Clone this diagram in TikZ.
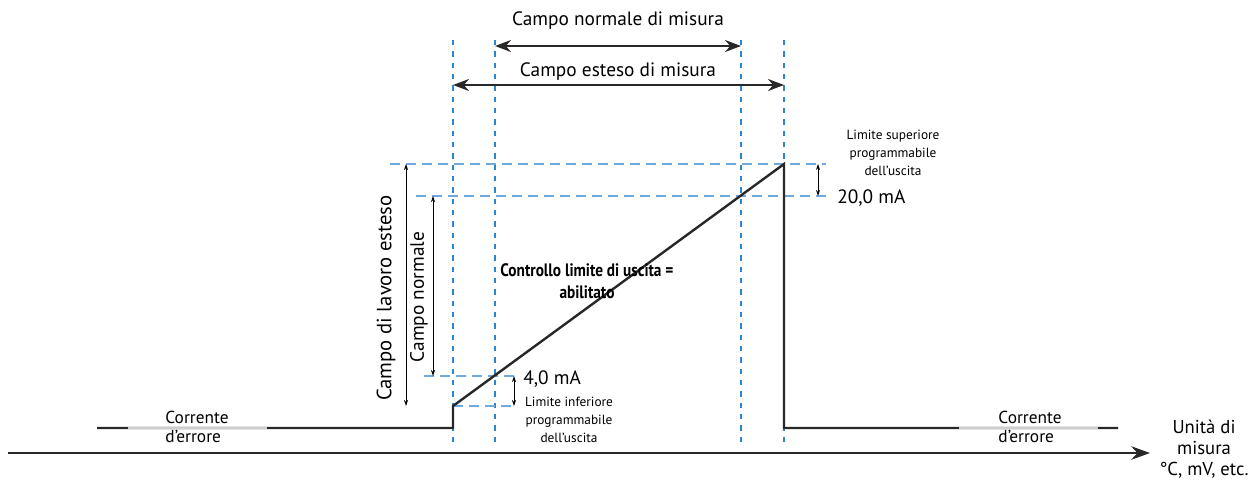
\documentclass[tikz,border=0pt]{standalone}
\usepackage{fontspec}
\setmainfont{PT Sans}
\newfontfamily\ctrlfont[FakeStretch=0.85]{PT Sans}
\usetikzlibrary{arrows,arrows.meta,positioning}
\definecolor{vblue}{RGB}{45,135,205}
\definecolor{hblue}{RGB}{110,170,222}
\definecolor{errgray}{RGB}{205,205,205}
\definecolor{linegray}{RGB}{40,40,40}
\def\xLow{453}
\def\xNorm{495}
\def\xHigh{741}
\def\xTop{784}
\tikzstyle{bigarrow} = [line width=1.5pt,draw=linegray,{Stealth[length=12pt,width=9pt]}-{Stealth[length=12pt,width=9pt]}]
\tikzstyle{smallarrow} = [line width=0.6pt,{Stealth[length=4.5pt,width=3pt]}-{Stealth[length=4.5pt,width=3pt]}]

\begin{document}
\begin{tikzpicture}[x=0.75pt,y=-0.75pt]
    \tikzstyle{vdash}=[draw=vblue, line width=1.2pt, dash pattern=on 4pt off 4.5pt]
    \tikzstyle{hdash}=[draw=hblue, line width=1.2pt, dash pattern=on 7.5pt off 4.5pt]
    \tikzstyle{signal}=[draw=linegray, line width=1.8pt]
    \tikzstyle{big label}=[font=\fontsize{14.5}{17}\selectfont, inner sep=0pt]
    \tikzstyle{small label}=[font=\fontsize{10}{13.5}\selectfont, align=center, inner sep=0pt]
    \tikzstyle{err label}=[font=\fontsize{13}{14}\selectfont, align=left, inner sep=0pt]

    \useasboundingbox (0,0) rectangle (1251,482);

    % Draw the vertical dashed lines
    \foreach \name / \x in {Low/\xLow, Norm/\xNorm, High/\xHigh, Top/\xTop}
        \draw[vdash] (\x,40) -- (\x,446);

    % Draw the horizontal dashed lines
    \draw[hdash] (390,164) -- (826,164);
    \draw[hdash] (416,196) -- (826,196);
    \draw[hdash] (424,376) -- (514,376);
    \draw[hdash] (\xLow,406) -- (514,406);

    % Measuring axis
    \coordinate (axisL) at (8,453);
    \coordinate (axisR) at (1150,453);
    \draw[line width=2.2pt, draw=linegray, -{Stealth[length=14pt,width=10pt]}] (axisL) -- (axisR);

    % Output signal
    \coordinate (S-1) at (97,428);
    \coordinate (S-2) at (\xLow,428);
    \coordinate (S-3) at (\xLow,406);
    \coordinate (S-4) at (\xTop,164);
    \coordinate (S-5) at (\xTop,428);
    \coordinate (S-6) at (1118,428);
    \draw[signal] (S-1) -- (S-2) -- (S-3) -- (S-4) -- (S-5) -- (S-6);
    \draw[signal, draw=errgray] (128,428) -- (267,428);
    \draw[signal, draw=errgray] (959,428) -- (1098,428);

    % Draw the top range arrows
    \coordinate (N-1) at (\xNorm,46);
    \coordinate (N-2) at (\xHigh,46);
    \coordinate (E-1) at (\xLow,85);
    \coordinate (E-2) at (\xTop,85);
    \draw[bigarrow] (N-1) -- (N-2);
    \draw[bigarrow] (E-1) -- (E-2);
    \node[big label] (normRange) at (618,21) {Campo normale di misura};
    \node[big label] (extRange) at (618,72) {Campo esteso di misura};

    % Draw the working range arrows
    \coordinate (W-1) at (406,164);
    \coordinate (W-2) at (406,406);
    \coordinate (C-1) at (433,196);
    \coordinate (C-2) at (433,376);
    \draw[smallarrow] (W-1) -- (W-2);
    \draw[smallarrow] (C-1) -- (C-2);
    \node[big label, rotate=90, font=\fontsize{15.5}{18}\selectfont] (extWork) at (386,298) {Campo di lavoro esteso};
    \node[big label, rotate=90] (normWork) at (419,297) {Campo normale};

    % Limits
    \coordinate (L-1) at (514,376);
    \coordinate (L-2) at (514,406);
    \coordinate (U-1) at (818,164);
    \coordinate (U-2) at (818,196);
    \draw[smallarrow] (L-1) -- (L-2);
    \draw[smallarrow] (U-1) -- (U-2);
    \node[big label, anchor=west] (lowmA) at (523,379) {4,0 mA};
    \node[small label] (lowLim) at (569,420) {Limite inferiore\\programmabile\\dell’uscita};
    \node[big label, anchor=west] (highmA) at (837,198) {20,0 mA};
    \node[small label] (highLim) at (893,153) {Limite superiore\\programmabile\\dell’uscita};

    % Annotations
    \node[font=\ctrlfont\fontsize{13.5}{16.5}\selectfont\bfseries, align=center, inner sep=0pt] (ctrl) at (587,281) {Controllo limite di uscita =\\abilitato};
    \node[err label] (errL) at (197,427) {Corrente\\d’errore};
    \node[err label] (errR) at (1030,427) {Corrente\\d’errore};
    \node[big label, align=center, font=\fontsize{14}{16}\selectfont] (unit) at (1204,449) {Unità di\\misura\\°C, mV, etc.};
\end{tikzpicture}
\end{document}
